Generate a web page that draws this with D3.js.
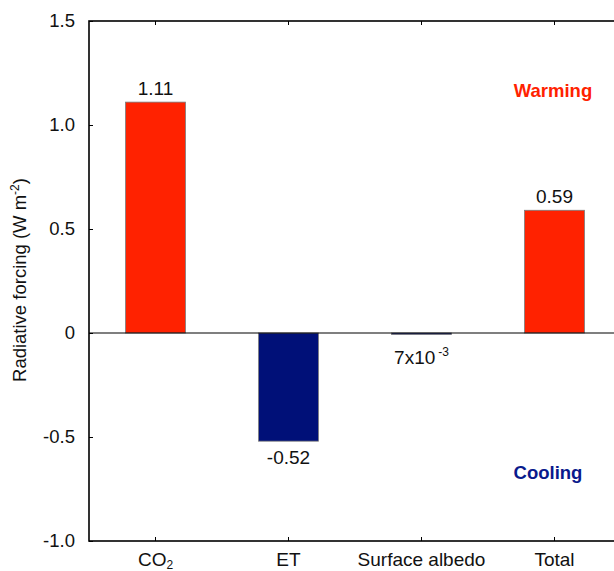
<!DOCTYPE html>
<html>
<head>
<meta charset="utf-8">
<script src="https://cdn.jsdelivr.net/npm/d3@7"></script>
<style>
html,body{margin:0;padding:0;background:#fff;}
svg{display:block;font-family:"Liberation Sans",Arial,sans-serif;}
</style>
</head>
<body>
<svg id="chart" width="614" height="571"></svg>
<script>
const categories = ["CO2", "ET", "Surface albedo", "Total"];
const values = [1.11, -0.52, -0.007, 0.59];
const valueLabels = ["1.11", "-0.52", "7x10", "0.59"];
const valueLabelSups = ["", "", "-3", ""];
const barColors = ["#ff2200", "#001078", "#001078", "#ff2200"];
const yTicks = [1.5, 1.0, 0.5, 0, -0.5, -1.0];
const yTickLabels = ["1.5", "1.0", "0.5", "0", "-0.5", "-1.0"];

(function () {
const svg = d3.select("#chart");
const pLeft = 89, pRight = 621, pTop = 21, pBottom = 541;
const FS = 19;

const x = d3.scaleBand().domain(categories).range([pLeft, pRight])
  .paddingInner(0.55).paddingOuter(0.275);
const y = d3.scaleLinear().domain([-1, 1.5]).range([pBottom, pTop]);

// bars
svg.append("g").selectAll("rect").data(values).join("rect")
  .attr("x", (d, i) => x(categories[i]))
  .attr("width", x.bandwidth())
  .attr("y", d => y(Math.max(d, 0)))
  .attr("height", d => Math.max(Math.abs(y(d) - y(0)), 1))
  .attr("fill", (d, i) => barColors[i])
  .attr("stroke", "#7a7a7a")
  .attr("stroke-width", 0.8);

// zero line
svg.append("line").attr("x1", pLeft).attr("x2", pRight)
  .attr("y1", y(0)).attr("y2", y(0))
  .attr("stroke", "#000").attr("stroke-width", 1.2);

// axes
const fmt = d => yTickLabels[yTicks.indexOf(d)];
const yAxisL = svg.append("g").attr("transform", `translate(${pLeft},0)`)
  .call(d3.axisLeft(y).tickValues(yTicks).tickFormat(fmt).tickSizeInner(-4).tickSizeOuter(0).tickPadding(14));
const yAxisR = svg.append("g").attr("transform", `translate(${pRight},0)`)
  .call(d3.axisRight(y).tickValues(yTicks).tickFormat("").tickSizeInner(-4).tickSizeOuter(0));
const xAxisB = svg.append("g").attr("transform", `translate(0,${pBottom})`)
  .call(d3.axisBottom(x).tickFormat("").tickSizeInner(-4).tickSizeOuter(0));
const xAxisT = svg.append("g").attr("transform", `translate(0,${pTop})`)
  .call(d3.axisTop(x).tickFormat("").tickSizeInner(-4).tickSizeOuter(0));
[yAxisL, yAxisR, xAxisB, xAxisT].forEach(g => {
  g.select(".domain").remove();
  g.selectAll(".tick line").attr("stroke", "#000").attr("stroke-width", 1);
});
yAxisL.selectAll(".tick text").attr("font-size", 18.5).attr("fill", "#111")
  .attr("font-family", "Liberation Sans, Arial, sans-serif");

// frame
svg.append("rect").attr("x", pLeft).attr("y", pTop)
  .attr("width", pRight - pLeft).attr("height", pBottom - pTop)
  .attr("fill", "none").attr("stroke", "#000").attr("stroke-width", 1.6);

// category labels
const catG = svg.append("g").attr("font-size", FS).attr("fill", "#111").attr("text-anchor", "middle");
categories.forEach(c => {
  const t = catG.append("text").attr("x", x(c) + x.bandwidth() / 2).attr("y", 566);
  if (c === "CO2") {
    t.append("tspan").text("CO");
    t.append("tspan").attr("font-size", 12).attr("dy", 2.5).text("2");
  } else {
    t.text(c);
  }
});

// value labels
const vG = svg.append("g").attr("font-size", FS).attr("fill", "#111").attr("text-anchor", "middle");
values.forEach((v, i) => {
  const cx = x(categories[i]) + x.bandwidth() / 2;
  const yy = v >= 0 ? y(v) - 7 : Math.max(y(v) + 23, y(0) + 31);
  const t = vG.append("text").attr("x", cx).attr("y", yy);
  t.append("tspan").text(valueLabels[i]);
  if (valueLabelSups[i]) {
    t.append("tspan").attr("font-size", 12).attr("dx", 3).attr("dy", -8).text(valueLabelSups[i]);
  }
});

// y axis title
const yt = svg.append("text").attr("transform", `translate(26,${280}) rotate(-90)`)
  .attr("text-anchor", "middle").attr("font-size", 18.5).attr("fill", "#111");
yt.append("tspan").text("Radiative forcing (W m");
yt.append("tspan").attr("font-size", 12).attr("dy", -7).text("-2");
yt.append("tspan").attr("dy", 7).text(")");

// annotations
svg.append("text").attr("x", 553).attr("y", 97).attr("text-anchor", "middle")
  .attr("font-size", 18.5).attr("font-weight", "bold").attr("fill", "#ff2200").text("Warming");
svg.append("text").attr("x", 548).attr("y", 479).attr("text-anchor", "middle")
  .attr("font-size", 18.5).attr("font-weight", "bold").attr("fill", "#0a1a8c").text("Cooling");
})();
</script>
</body>
</html>
